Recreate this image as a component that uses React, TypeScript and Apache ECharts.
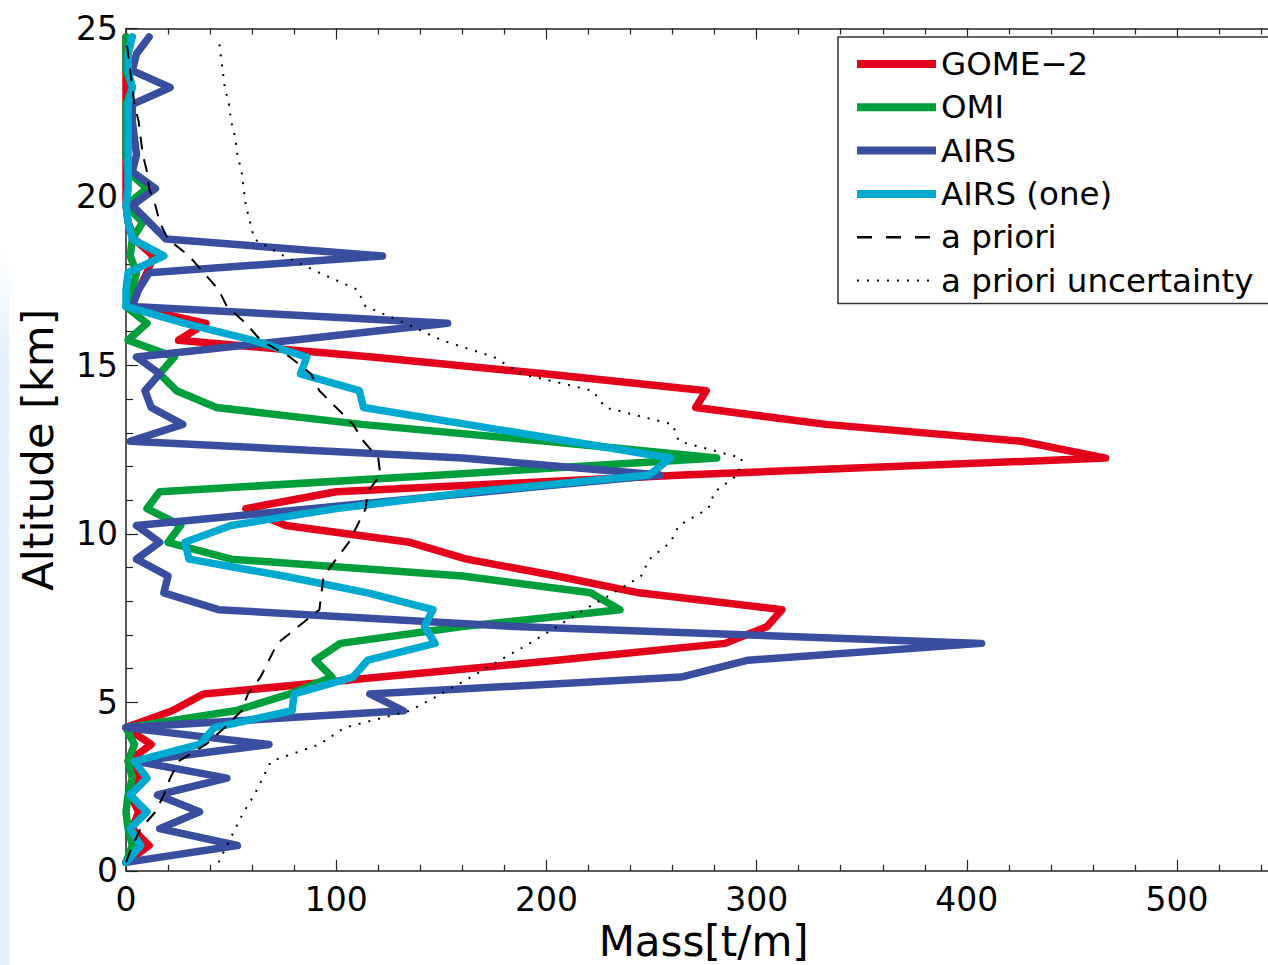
import React, { useEffect, useRef } from "react";
import * as echarts from "echarts";

// Altitude grid of the retrieved profiles (layer centres, km)
const ALTITUDE_KM = [
  0.25, 0.75, 1.25, 1.75, 2.25, 2.75, 3.25, 3.75, 4.25, 4.75,
  5.25, 5.75, 6.25, 6.75, 7.25, 7.75, 8.25, 8.75, 9.25, 9.75,
  10.25, 10.75, 11.25, 11.75, 12.25, 12.75, 13.25, 13.75, 14.25, 14.75,
  15.25, 15.75, 16.25, 16.75, 17.25, 17.75, 18.25, 18.75, 19.25, 19.75,
  20.25, 20.75, 21.25, 21.75, 22.25, 22.75, 23.25, 23.75, 24.25, 24.75,
];

// Mass per altitude layer [t/m]
const GOME2_MASS = [
  0, 11, 3, 6, 2, 6, 1, 12, 0, 22,
  37, 121, 205, 285, 305, 312, 244, 205, 162, 135,
  76, 57, 100, 265, 466, 426, 333, 271, 276, 199,
  117, 25, 38, 2, 6, 10, 13, 4, 1, 0,
  0, 0, 0, 0, 0, 0, 0, 0, 0, 0,
];

const OMI_MASS = [
  0, 3, 1, 0, 1, 3, 1, 4, 0, 52,
  78, 98, 90, 102, 160, 235, 221, 160, 50, 20,
  26, 10, 16, 150, 281, 200, 112, 43, 24, 16,
  23, 1, 10, 0, 3, 5, 2, 3, 8, 0,
  10, 1, 0, 0, 0, 0, 3, 0, 0, 0,
];

const AIRS_MASS = [
  0, 53, 16, 35, 15, 48, 5, 68, 0, 132,
  116, 264, 296, 407, 185, 44, 18, 20, 5, 16,
  5, 88, 171, 254, 160, 2, 27, 12, 9, 16,
  5, 79, 153, 3, 6, 11, 122, 19, 11, 3,
  14, 3, 5, 4, 3, 3, 21, 3, 5, 11,
];

const AIRS_ONE_MASS = [
  0, 7, 2, 10, 2, 10, 4, 35, 42, 79,
  80, 108, 115, 147, 142, 146, 115, 75, 30, 28,
  50, 100, 165, 249, 259, 211, 162, 113, 111, 83,
  86, 60, 28, 0, 0, 1, 18, 3, 1, 0,
  1, 1, 1, 1, 1, 1, 3, 1, 1, 3,
];

const A_PRIORI_MASS = [
  0, 3, 7, 14, 18, 21, 25, 38, 47, 55,
  58, 64, 68, 72, 82, 92, 93, 94, 100, 106,
  110, 114, 115, 121, 120, 113, 108, 100, 92, 88,
  78, 64, 57, 48, 44, 37, 30, 20, 16, 14,
  11, 10, 8, 7, 6, 4, 3, 2, 1, 0,
];

const A_PRIORI_UNCERTAINTY = [
  44, 48, 52, 56, 61, 65, 69, 92, 104, 135,
  150, 164, 178, 192, 205, 218, 232, 245, 249, 259,
  263, 277, 280, 291, 293, 263, 260, 228, 222, 188,
  175, 150, 133, 114, 110, 92, 75, 61, 59, 57,
  56, 55, 53, 52, 50, 49, 47, 46, 45, 44,
];

const X_TICKS = [0, 100, 200, 300, 400, 500, 600];
const Y_TICKS = [0, 5, 10, 15, 20, 25];

const FONT = "DejaVu Sans";

type Profile = {
  name: string;
  values: number[];
  color: string;
  width: number;
  type: "solid" | number[];
  legendType: "solid" | number[];
  legendWidth: number;
};

const PROFILES: Profile[] = [
  { name: "GOME\u22122", values: GOME2_MASS, color: "#e2001a", width: 7.5, type: "solid", legendType: "solid", legendWidth: 8 },
  { name: "OMI", values: OMI_MASS, color: "#009f3b", width: 7.5, type: "solid", legendType: "solid", legendWidth: 8 },
  { name: "AIRS", values: AIRS_MASS, color: "#3a4e9f", width: 7.5, type: "solid", legendType: "solid", legendWidth: 8 },
  { name: "AIRS (one)", values: AIRS_ONE_MASS, color: "#00a9cf", width: 7.5, type: "solid", legendType: "solid", legendWidth: 8 },
  { name: "a priori", values: A_PRIORI_MASS, color: "#000000", width: 2, type: [13, 10], legendType: [15, 14], legendWidth: 2.5 },
  { name: "a priori uncertainty", values: A_PRIORI_UNCERTAINTY, color: "#000000", width: 2, type: [2, 8], legendType: [2, 8], legendWidth: 2 },
];

// Plot box geometry: 0..600 t/m spans 1261 px, so the visible frame stops near 543 t/m
const GRID_LEFT = 126;
const GRID_TOP = 28.5;
const GRID_WIDTH = 1261.3;
const GRID_HEIGHT = 842.3;

export default function App() {
  const ref = useRef<HTMLDivElement>(null);

  useEffect(() => {
    if (!ref.current) return;
    const chart = echarts.init(ref.current, null, { renderer: "svg" });

    const axisLine = { show: true, lineStyle: { color: "#222", width: 1.5 } };
    const tickStyle = { color: "#222", width: 1.2 };

    const option = {
      animation: false,
      backgroundColor: "#ffffff",
      graphic: [
        {
          type: "rect",
          left: 0,
          top: 250,
          shape: { width: 9, height: 715 },
          style: {
            fill: new echarts.graphic.LinearGradient(0, 0, 0, 1, [
              { offset: 0, color: "rgba(226,241,251,0)" },
              { offset: 0.15, color: "rgba(226,241,251,1)" },
              { offset: 1, color: "rgba(226,241,251,1)" },
            ]),
          },
          silent: true,
        },
      ],
      grid: {
        left: GRID_LEFT,
        top: GRID_TOP,
        width: GRID_WIDTH,
        height: GRID_HEIGHT,
        containLabel: false,
        outerBoundsMode: "none",
      },
      legend: {
        orient: "vertical",
        left: 838,
        top: 37,
        padding: [9, 60, 5, 15],
        backgroundColor: "#ffffff",
        borderColor: "#333333",
        borderWidth: 1.5,
        itemWidth: 79,
        itemHeight: 12,
        itemGap: 7.3,
        selectedMode: false,
        textStyle: { fontFamily: FONT, fontSize: 32.5, color: "#000", lineHeight: 36 },
        data: PROFILES.map((p) => ({
          name: p.name,
          itemStyle: { opacity: 0 },
          lineStyle: { color: p.color, width: p.legendWidth, type: p.legendType, cap: "butt" },
        })),
      },
      xAxis: [
        {
          type: "value",
          position: "bottom",
          min: X_TICKS[0],
          max: X_TICKS[X_TICKS.length - 1],
          interval: X_TICKS[1] - X_TICKS[0],
          axisLine,
          axisTick: { show: true, inside: true, length: 11, lineStyle: tickStyle },
          minorTick: { show: true, splitNumber: 5, length: 6, lineStyle: tickStyle },
          splitLine: { show: false },
          axisLabel: { fontFamily: FONT, fontSize: 33, color: "#000", margin: 12, showMaxLabel: false },
          name: "Mass[t/m]",
          nameLocation: "middle",
          nameGap: 41,
          nameTextStyle: { fontFamily: FONT, fontSize: 42, lineHeight: 42, color: "#000", padding: [0, 106, 0, 0] },
        },
        {
          type: "value",
          position: "top",
          min: X_TICKS[0],
          max: X_TICKS[X_TICKS.length - 1],
          interval: X_TICKS[1] - X_TICKS[0],
          axisLine,
          axisTick: { show: true, inside: true, length: 11, lineStyle: tickStyle },
          minorTick: { show: true, splitNumber: 5, length: 6, lineStyle: tickStyle },
          splitLine: { show: false },
          axisLabel: { show: false },
        },
      ],
      yAxis: [
        {
          type: "value",
          min: Y_TICKS[0],
          max: Y_TICKS[Y_TICKS.length - 1],
          interval: Y_TICKS[1] - Y_TICKS[0],
          axisLine,
          axisTick: { show: true, inside: true, length: 12, lineStyle: tickStyle },
          minorTick: { show: true, splitNumber: 5, length: 7, lineStyle: tickStyle },
          splitLine: { show: false },
          axisLabel: { fontFamily: FONT, fontSize: 33, color: "#000", margin: 8 },
          name: "Altitude [km]",
          nameLocation: "middle",
          nameGap: 67,
          nameTextStyle: { fontFamily: FONT, fontSize: 43, color: "#000" },
        },
      ],
      series: PROFILES.map((p) => ({
        name: p.name,
        type: "line",
        xAxisIndex: 0,
        yAxisIndex: 0,
        showSymbol: false,
        symbol: "none",
        clip: true,
        data: ALTITUDE_KM.map((alt, i) => [p.values[i], alt]),
        lineStyle: { color: p.color, width: p.width, type: p.type, cap: p.type === "solid" ? "round" : "butt", join: "round" },
        itemStyle: { color: p.color },
        emphasis: { disabled: true },
      })),
    };

    chart.setOption(option as any);
    return () => chart.dispose();
  }, []);

  return (
    <div
      style={{
        position: "fixed",
        left: 0,
        top: 0,
        width: 1268,
        height: 965,
        overflow: "hidden",
        background: "#fff",
      }}
    >
      <div ref={ref} style={{ width: 1400, height: 965 }} />
    </div>
  );
}
